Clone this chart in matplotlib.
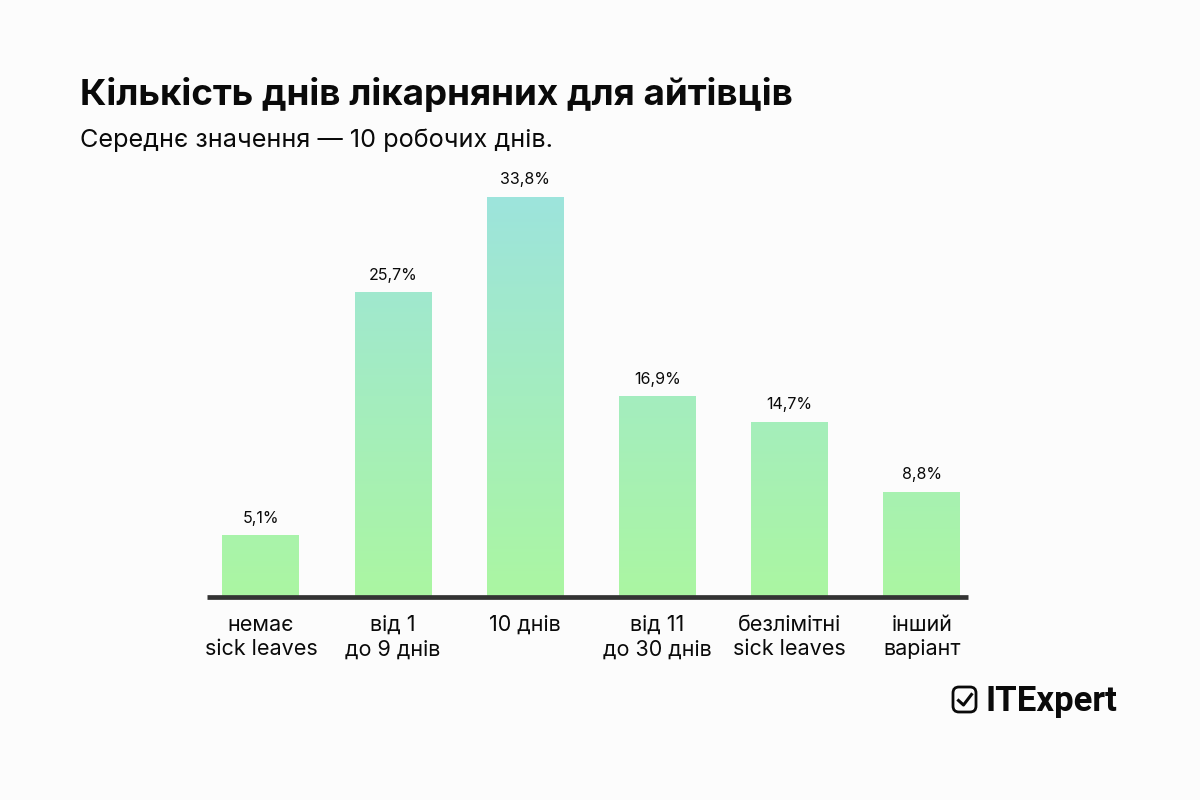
import numpy as np
import matplotlib
matplotlib.use("Agg")
import matplotlib.pyplot as plt
from matplotlib.colors import LinearSegmentedColormap
from matplotlib.lines import Line2D
from matplotlib.patches import FancyBboxPatch

plt.rcParams['font.family'] = ['Inter', 'DejaVu Sans']

categories = ["немає\nsick leaves", "від 1\nдо 9 днів", "10 днів",
              "від 11\nдо 30 днів", "безлімітні\nsick leaves", "інший\nваріант"]
values = [5.1, 25.7, 33.8, 16.9, 14.7, 8.8]
value_labels = ["5,1%", "25,7%", "33,8%", "16,9%", "14,7%", "8,8%"]

title = "Кількість днів лікарняних для айтівців"
subtitle = "Середнє значення — 10 робочих днів."
brand = "ITExpert"

BG = "#fcfcfc"
INK = "#0a0a0a"
W, H = 1200, 800


def px(x, y):
    """Pixel position (from the top left) to figure fraction."""
    return x / W, 1 - y / H


fig = plt.figure(figsize=(12, 8), dpi=100, facecolor=BG)

# axes run from the left end of the baseline to its right end
left, right = 207, 968
base, top = 596.5, 170
ax = fig.add_axes([left / W, 1 - base / H, (right - left) / W, (base - top) / H])
ax.set_facecolor("none")

# bars share one vertical gradient running over the whole plot height
grad = LinearSegmentedColormap.from_list("mint", ["#abf6a2", "#9de4dc"])
y_top = max(values)
x = np.arange(len(values))
bars = ax.bar(x, values, width=0.582, color="none", linewidth=0)
for bar, v in zip(bars, values):
    ramp = np.linspace(v / y_top, 0, 128).reshape(-1, 1)
    x0 = bar.get_x()
    ax.imshow(ramp, cmap=grad, vmin=0, vmax=1, aspect="auto", zorder=1,
              extent=(x0, x0 + bar.get_width(), 0, v))
ax.set_xlim(-0.408, 5.35)
ax.set_ylim(0, (base - top) / 11.8)

for xi, v, lab in zip(x, values, value_labels):
    ax.annotate(lab, (xi, v), xytext=(0, 13), textcoords="offset points",
                ha="center", va="center", fontsize=11.5, color=INK)

for s in ["top", "left", "right"]:
    ax.spines[s].set_visible(False)
ax.spines["bottom"].set_linewidth(3.4)
ax.spines["bottom"].set_color("#333333")
ax.spines["bottom"].set_capstyle("butt")
ax.spines["bottom"].set_zorder(3)
ax.set_yticks([])
ax.set_xticks(x, categories)
ax.tick_params(axis="x", length=0, pad=13, labelsize=15.5, labelcolor=INK)
for t in ax.get_xticklabels():
    t.set_linespacing(1.3)

fig.text(*px(80, 95), title, fontsize=26.5, fontweight="bold", color=INK, va="center")
fig.text(*px(80, 140), subtitle, fontsize=18.2, color=INK, va="center")

# logo: rounded check box and wordmark
fig.add_artist(FancyBboxPatch(px(953, 712), 23 / W, 25 / H, boxstyle="round,pad=0,rounding_size=0.005",
                              transform=fig.transFigure, fc="none", ec=INK, lw=2.0,
                              mutation_aspect=1.5))
cx = [958.5, 963.5, 971.5]
cy = [700.5, 705, 694.5]
fig.add_artist(Line2D([px(a, b)[0] for a, b in zip(cx, cy)], [px(a, b)[1] for a, b in zip(cx, cy)],
                      transform=fig.transFigure, color=INK, lw=2.2))
fig.text(*px(985, 702), brand, fontsize=25, fontweight="bold", color=INK, va="center",
         family=["Roboto", "DejaVu Sans"])

fig.savefig("out.png", dpi=100, facecolor=BG)
